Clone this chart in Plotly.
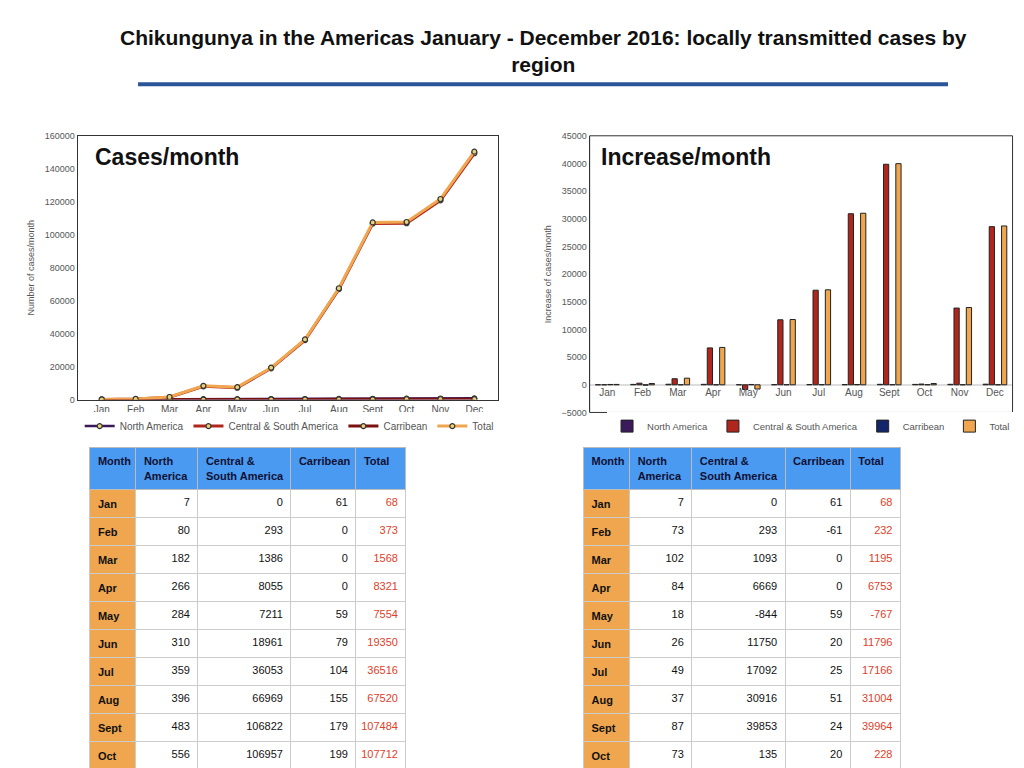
import plotly.graph_objects as go

months = ['Jan', 'Feb', 'Mar', 'Apr', 'May', 'Jun', 'Jul', 'Aug', 'Sept', 'Oct', 'Nov', 'Dec']

# cumulative cases/month
na_cases = [7, 80, 182, 266, 284, 310, 359, 396, 483, 556, 643, 756]
csa_cases = [0, 293, 1386, 8055, 7211, 18961, 36053, 66969, 106822, 106957, 120822, 149404]
car_cases = [61, 0, 0, 0, 59, 79, 104, 155, 179, 199, 213, 224]
tot_cases = [68, 373, 1568, 8321, 7554, 19350, 36516, 67520, 107484, 107712, 121678, 150384]

# increase/month
na_inc = [7, 73, 102, 84, 18, 26, 49, 37, 87, 73, 87, 113]
csa_inc = [0, 293, 1093, 6669, -844, 11750, 17092, 30916, 39853, 135, 13865, 28582]
car_inc = [61, -61, 0, 0, 59, 20, 25, 51, 24, 20, 14, 11]
tot_inc = [68, 232, 1195, 6753, -767, 11796, 17166, 31004, 39964, 228, 13966, 28706]

headers = ['Month', 'North<br>America', 'Central &<br>South America', 'Carribean', 'Total']

FONT = 'Liberation Sans, Arial, sans-serif'
ORANGE = '#EFA64F'
RED = '#B0261C'
GREY = '#555555'

fig = go.Figure()

mk = dict(size=5, color='#E8D27A', line=dict(color='#333333', width=1.2))
fig.add_trace(go.Scatter(x=months, y=na_cases, name='North America', mode='lines+markers',
                         line=dict(color='#3A1A5A', width=2.5), marker=mk, legend='legend'))
fig.add_trace(go.Scatter(x=months, y=csa_cases, name='Central & South America', mode='lines+markers',
                         line=dict(color=RED, width=3), marker=mk, legend='legend'))
fig.add_trace(go.Scatter(x=months, y=car_cases, name='Carribean', mode='lines+markers',
                         line=dict(color='#7A1010', width=3), marker=mk, legend='legend'))
fig.add_trace(go.Scatter(x=months, y=tot_cases, name='Total', mode='lines+markers',
                         line=dict(color=ORANGE, width=3), marker=mk, legend='legend'))

bl = dict(color='#222222', width=1)
fig.add_trace(go.Bar(x=months, y=na_inc, name='North America', marker=dict(color='#3A1A5A', line=bl),
                     xaxis='x2', yaxis='y2', legend='legend2'))
fig.add_trace(go.Bar(x=months, y=csa_inc, name='Central & South America', marker=dict(color=RED, line=bl),
                     xaxis='x2', yaxis='y2', legend='legend2'))
fig.add_trace(go.Bar(x=months, y=car_inc, name='Carribean', marker=dict(color='#14246A', line=bl),
                     xaxis='x2', yaxis='y2', legend='legend2'))
fig.add_trace(go.Bar(x=months, y=tot_inc, name='Total', marker=dict(color=ORANGE, line=bl),
                     xaxis='x2', yaxis='y2', legend='legend2'))


def table(cols, xdom):
    n = len(months)
    fig.add_trace(go.Table(
        domain=dict(x=xdom, y=[0.0, 0.427]),
        columnwidth=[46, 62, 93, 65, 50],
        header=dict(values=['<b>%s</b>' % h for h in headers], fill_color='#4A9AF2',
                    line_color='#BBBBBB', align='left', height=34,
                    font=dict(family=FONT, size=11, color='#111133')),
        cells=dict(values=[['<b>%s</b>' % m for m in months]] + cols,
                   fill_color=[[ORANGE] * n, ['white'] * n, ['white'] * n, ['white'] * n, ['white'] * n],
                   line_color='#CCCCCC', align=['left', 'right', 'right', 'right', 'right'], height=20,
                   font=dict(family=FONT, size=11,
                             color=[['#111111'] * n] * 4 + [['#E0402A'] * n])),
    ))


table([na_cases, csa_cases, car_cases, tot_cases], [0.080, 0.389])
table([na_inc, csa_inc, car_inc, tot_inc], [0.562, 0.872])

axfont = dict(family=FONT, size=10, color=GREY)
y2dom = [0.473, 0.838]
zero_pos = y2dom[0] + (y2dom[1] - y2dom[0]) * 5000 / 50000
fig.update_layout(
    width=1024, height=768, margin=dict(l=0, r=0, t=0, b=0),
    paper_bgcolor='white', plot_bgcolor='white', showlegend=True,
    font=dict(family=FONT, color=GREY),
    barmode='group', bargap=0.3, bargroupgap=0.15,
    xaxis=dict(domain=[0.068, 0.479], showline=True, mirror=True, linecolor='#333333',
               tickfont=axfont, ticks='', showgrid=False),
    yaxis=dict(domain=[0.49, 0.838], range=[0, 160000], dtick=20000, tickformat='d', showline=True,
               mirror=True, linecolor='#333333', tickfont=dict(family=FONT, size=9, color=GREY),
               showgrid=False, zeroline=False,
               title=dict(text='Number of cases/month', font=dict(size=9, color=GREY), standoff=8)),
    xaxis2=dict(domain=[0.568, 0.981], anchor='free', position=zero_pos, showline=False,
                tickfont=axfont, ticks='', showgrid=False),
    yaxis2=dict(domain=y2dom, anchor='x2', range=[-5000, 45000], dtick=5000, tickformat='d',
                showline=True, linecolor='#333333', tickfont=dict(family=FONT, size=9, color=GREY),
                showgrid=False, zeroline=True, zerolinecolor='#DDDDDD',
                title=dict(text='Increase of cases/month', font=dict(size=9, color=GREY), standoff=8)),
    legend=dict(orientation='h', x=0.07, y=0.455, xanchor='left', yanchor='middle',
                font=dict(size=10, color=GREY), itemwidth=30, tracegroupgap=0),
    legend2=dict(orientation='h', x=0.585, y=0.455, xanchor='left', yanchor='middle',
                 font=dict(size=9.5, color=GREY), itemwidth=30),
    annotations=[
        dict(text='<b>Chikungunya in the Americas January - December 2016: locally transmitted cases by<br>region</b>',
             x=0.523, y=0.985, xref='paper', yref='paper', yanchor='top', showarrow=False,
             font=dict(family=FONT, size=21, color='#111111')),
        dict(text='<b>Cases/month</b>', x=0.083, y=0.83, xref='paper', yref='paper', xanchor='left',
             yanchor='top', showarrow=False, font=dict(family=FONT, size=23, color='#111111')),
        dict(text='<b>Increase/month</b>', x=0.577, y=0.83, xref='paper', yref='paper', xanchor='left',
             yanchor='top', showarrow=False, font=dict(family=FONT, size=23, color='#111111')),
    ],
    shapes=[dict(type='line', xref='paper', yref='paper', x0=0.127, x1=0.918, y0=0.906, y1=0.906,
                 line=dict(color='#2A5598', width=4)),
            dict(type='rect', xref='x2 domain', yref='y2 domain', x0=0, x1=1, y0=0, y1=1,
                 line=dict(color='#333333', width=1))],
)

fig.write_html('out.html')
